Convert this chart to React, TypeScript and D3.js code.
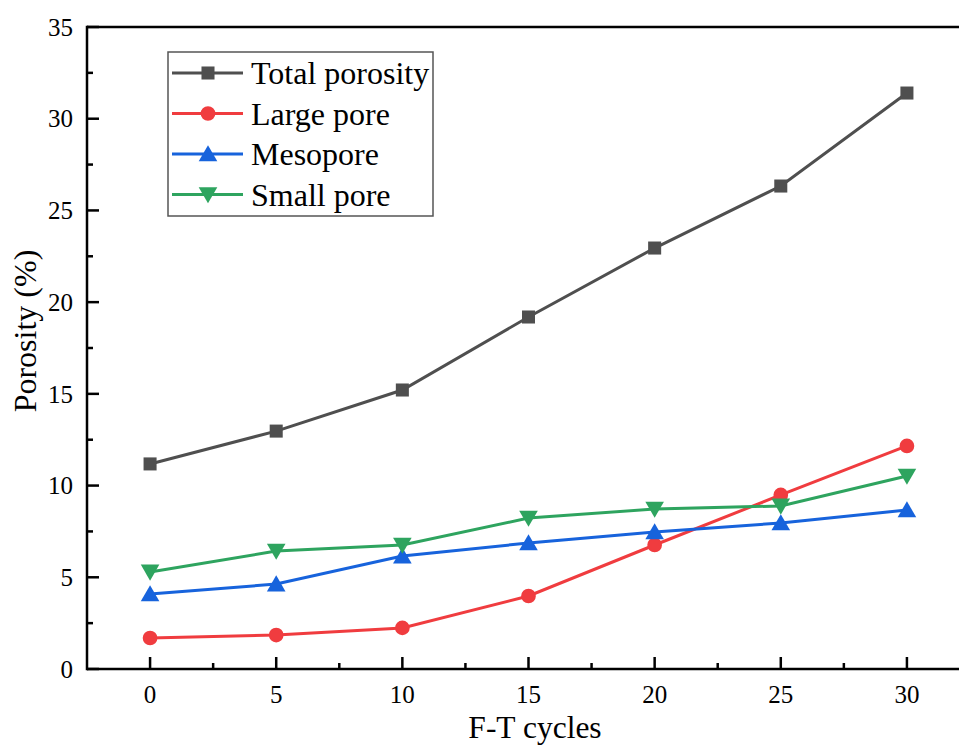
import { scaleLinear, line, range, symbol, symbolSquare, symbolCircle, symbolTriangle } from 'd3';

const cycles = [0, 5, 10, 15, 20, 25, 30];
const totalPorosity = [11.18, 12.97, 15.21, 19.19, 22.95, 26.33, 31.4];
const largePore = [1.69, 1.85, 2.24, 3.98, 6.76, 9.49, 12.16];
const mesopore = [4.09, 4.63, 6.16, 6.87, 7.47, 7.96, 8.67];
const smallPore = [5.29, 6.43, 6.76, 8.23, 8.72, 8.89, 10.52];
const xTicks = [0, 5, 10, 15, 20, 25, 30];
const yTicks = [0, 5, 10, 15, 20, 25, 30, 35];

const WIDTH = 959;
const HEIGHT = 747;
const LEFT = 87;
const TOP = 27;
const BOTTOM = 669;
const FONT = '"Liberation Serif", "Times New Roman", serif';

type Marker = 'square' | 'circle' | 'up' | 'down';

const series: { name: string; values: number[]; color: string; marker: Marker }[] = [
  { name: 'Total porosity', values: totalPorosity, color: '#4f4f4f', marker: 'square' },
  { name: 'Large pore', values: largePore, color: '#f03c3f', marker: 'circle' },
  { name: 'Mesopore', values: mesopore, color: '#1763dc', marker: 'up' },
  { name: 'Small pore', values: smallPore, color: '#2ea45f', marker: 'down' },
];

function markerPath(m: Marker) {
  if (m === 'square') return symbol(symbolSquare, 170)()!;
  if (m === 'circle') return symbol(symbolCircle, 170)()!;
  return symbol(symbolTriangle, 150)()!;
}

function MarkerShape({ m, x, y, color }: { m: Marker; x: number; y: number; color: string }) {
  const rot = m === 'down' ? 180 : 0;
  const dy = m === 'up' ? 2 : m === 'down' ? -2 : 0;
  return <path d={markerPath(m)} transform={`translate(${x},${y + dy}) rotate(${rot})`} fill={color} />;
}

export default function App() {
  const x = scaleLinear().domain([-2.5, 32.5]).range([LEFT, 970]);
  const y = scaleLinear().domain([0, 35]).range([BOTTOM, TOP]);
  // minor ticks halfway between the labelled ones
  const minorX = range(2.5, 33, 5);
  const minorY = range(2.5, 35, 5);

  return (
    <svg width={WIDTH} height={HEIGHT} style={{ position: 'absolute', left: 0, top: 0 }} fontFamily={FONT}>
      <rect width={WIDTH} height={HEIGHT} fill="#fff" />
      <line x1={LEFT} x2={WIDTH} y1={TOP} y2={TOP} stroke="#000" strokeWidth={2.5} />
      <line x1={LEFT} x2={WIDTH} y1={BOTTOM} y2={BOTTOM} stroke="#000" strokeWidth={2.5} />
      <line x1={LEFT} x2={LEFT} y1={TOP - 1.2} y2={BOTTOM + 1.2} stroke="#000" strokeWidth={2.5} />

      {yTicks.map((t) => (
        <g key={`y${t}`}>
          <line x1={LEFT} x2={LEFT + 12} y1={y(t)} y2={y(t)} stroke="#000" strokeWidth={2.5} />
          <text x={LEFT - 14} y={y(t)} dy="0.35em" textAnchor="end" fontSize={25}>
            {t}
          </text>
        </g>
      ))}
      {minorY.map((t) => (
        <line key={`my${t}`} x1={LEFT} x2={LEFT + 6} y1={y(t)} y2={y(t)} stroke="#000" strokeWidth={2.5} />
      ))}
      {xTicks.map((t) => (
        <g key={`x${t}`}>
          <line x1={x(t)} x2={x(t)} y1={BOTTOM} y2={BOTTOM - 12} stroke="#000" strokeWidth={2.5} />
          <text x={x(t)} y={BOTTOM + 34} textAnchor="middle" fontSize={25}>
            {t}
          </text>
        </g>
      ))}
      {minorX.map((t) => (
        <line key={`mx${t}`} x1={x(t)} x2={x(t)} y1={BOTTOM} y2={BOTTOM - 6} stroke="#000" strokeWidth={2.5} />
      ))}

      <text x={535} y={738} textAnchor="middle" fontSize={31.5}>
        F-T cycles
      </text>
      <text transform={`translate(36, 331) rotate(-90)`} textAnchor="middle" fontSize={32}>
        Porosity (%)
      </text>

      {series.map((s) => {
        const pts = cycles.map((c, i) => [x(c), y(s.values[i])] as [number, number]);
        return (
          <g key={s.name}>
            <path d={line()(pts)!} fill="none" stroke={s.color} strokeWidth={3} />
            {pts.map(([px, py], i) => (
              <MarkerShape key={i} m={s.marker} x={px} y={py} color={s.color} />
            ))}
          </g>
        );
      })}

      <rect x={168} y={52} width={265} height={164} fill="#fff" stroke="#555" strokeWidth={1.5} />
      {series.map((s, i) => {
        const ly = 73 + i * 40.5;
        return (
          <g key={`lg${s.name}`}>
            <line x1={172} x2={243} y1={ly} y2={ly} stroke={s.color} strokeWidth={3} />
            <MarkerShape m={s.marker} x={208} y={ly} color={s.color} />
            <text x={251} y={ly} dy="0.35em" fontSize={32}>
              {s.name}
            </text>
          </g>
        );
      })}
    </svg>
  );
}
